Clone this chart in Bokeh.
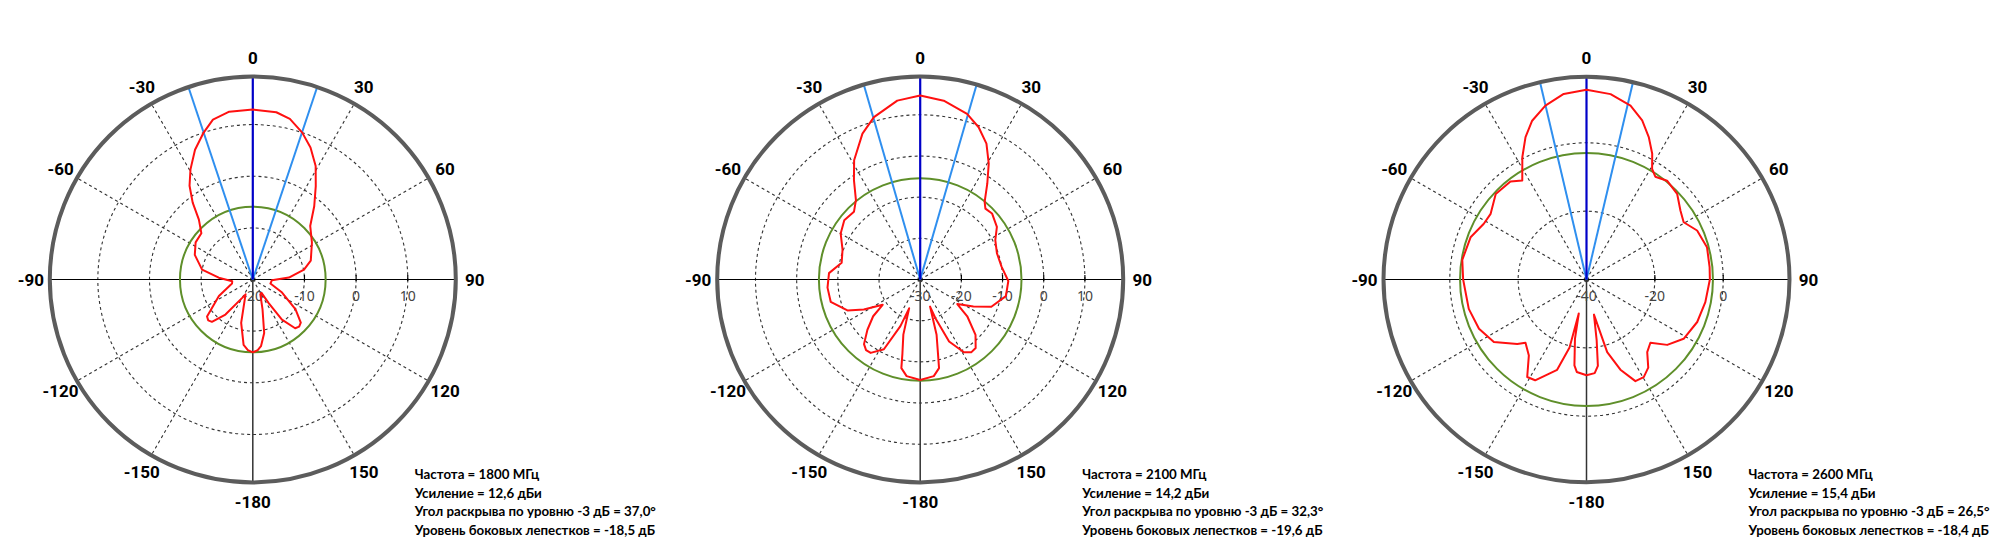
import numpy as np
from bokeh.plotting import figure
from bokeh.models import Range1d
from bokeh.core.properties import value
from bokeh.embed import file_html
from bokeh.resources import INLINE

# ---------------- data ----------------
freqs_mhz = [1800, 2100, 2600]
gain_dbi = [12.6, 14.2, 15.4]
beamwidth_deg = [37.0, 32.3, 26.5]
sidelobe_db = [-18.5, -19.6, -18.4]

r_min = [-20, -30, -40]
r_outer = [19.3, 19.3, 19.4]
radial_ticks = [[-20, -10, 0, 10], [-30, -20, -10, 0, 10], [-40, -20, 0]]
grid_circles = [[-10, 0, 10], [-20, -10, 0, 10], [-20, 0]]

angle_ticks = [0, 30, 60, 90, 120, 150, 180, -150, -120, -90, -60, -30]
angle_labels = ["0", "30", "60", "90", "120", "150", "-180", "-150", "-120", "-90", "-60", "-30"]
dashed_spokes = [30, 60, 120, 150, -30, -60, -120, -150]

angles_1800 = [-180, -176, -172, -165, -154, -150, -142, -136, -132.5, -129, -116, -101, -95, -87, -79, -67,
               -57, -48, -42, -38, -34, -29.5, -24, -18.5, -14, -8, 0, 8, 13, 18.6, 23.6, 29, 34, 40,
               47, 58, 72, 79, 87, 92, 103, 114, 125, 132, 135.5, 139, 144, 146, 147, 153, 162, 168, 173, 176, 180]
gain_1800 = [-5.9, -6.3, -7.2, -11.3, -16.8, -15.9, -11.4, -8.6, -8.3, -8.6, -12.7, -15.9, -16.0, -13.4, -10.0, -7.8,
             -6.8, -6.6, -4.4, -1.1, 1.9, 4.5, 7.5, 10.0, 11.9, 12.8, 12.9, 12.7, 11.9, 10.0, 7.9, 5.1, 1.8, -1.5,
             -4.8, -6.5, -8.2, -9.9, -13.0, -16.3, -16.5, -13.8, -9.9, -7.5, -7.2, -7.5, -10.4, -14.5, -16.9, -16.8,
             -13.9, -9.4, -7.0, -6.3, -5.9]

angles_2100 = [-180, -172, -168, -166.5, -163, -159, -157, -152.5, -146, -142.5, -139, -133.6, -128, -124, -118,
               -113, -104, -95, -86, -78, -69, -60, -52, -44.4, -39, -33.7, -29, -21.6, -15.9, -7.3, 0, 7.5,
               15.8, 21, 26, 30.6, 35, 39.7, 42.6, 47.4, 55.5, 62.3, 71, 81, 91, 101, 111, 117, 123.5, 128,
               135, 141, 145, 149, 155, 158.5, 160, 163.5, 166.5, 168, 172, 180]
gain_2100 = [-5.6, -6.3, -8.0, -11.5, -16.0, -22.5, -17.7, -10.9, -8.5, -8.4, -9.2, -12.3, -15.5, -19.0, -14.5,
             -10.8, -7.6, -7.4, -7.8, -10.5, -9.8, -7.7, -6.6, -7.0, -5.2, -1.0, 3.1, 8.1, 11.0, 13.8, 14.7, 13.8,
             11.8, 9.6, 6.7, 2.7, -1.6, -5.5, -6.6, -6.3, -7.4, -9.4, -10.3, -10.0, -8.6, -8.8, -11.5, -15.5,
             -19.2, -15.5, -11.0, -8.6, -8.4, -9.4, -13.4, -19.9, -23.0, -16.0, -11.5, -8.0, -6.3, -5.6]

angles_2600 = [-180, -174, -172, -169, -167.2, -166, -162, -153, -148.7, -142.8, -136, -133, -124, -114.6, -104,
               -90, -81, -70, -61.5, -55.6, -46.7, -37.8, -33, -27.7, -23.2, -18.9, -13.3, -7, 0, 7.4, 14.2,
               19.3, 23.7, 27.6, 30.7, 33.8, 39.2, 46.6, 53.7, 59.5, 66.1, 75, 84.3, 90, 100.8, 111, 121.4,
               129, 134.7, 140.1, 145, 149.6, 154.3, 159.4, 164.1, 168, 170.5, 172.5, 175, 180]
gain_2600 = [-12.0, -12.8, -14.6, -22.3, -29.8, -19.5, -12.2, -6.9, -6.6, -12.1, -14.3, -12.3, -7.3, -5.4, -4.5,
             -3.9, -3.2, -3.9, -5.8, -6.0, -3.5, -3.7, -5.5, 0.4, 5.3, 9.1, 12.3, 14.7, 15.5, 14.7, 12.5,
             9.3, 5.4, 1.5, -2.4, -3.8, -2.7, -3.5, -5.9, -7.0, -4.6, -3.5, -3.8, -3.9, -4.6, -5.3, -6.7,
             -9.6, -13.7, -12.3, -8.5, -6.9, -7.0, -11.8, -17.9, -29.5, -22.0, -14.5, -12.5, -12.0]

patterns = [(angles_1800, gain_1800), (angles_2100, gain_2100), (angles_2600, gain_2600)]

# ---------------- layout ----------------
W, H = 1992, 549
center_x_px = [252.3, 919.7, 1586.0]
center_y_px = 279.0
R_PX = 203.0
LABEL_R_PX = 222.0
INFO_DX_PX = 162.0
INFO_DY_PX = [194.3, 213.0, 231.8, 250.6]

ANG_FONT = value("Roboto")
TICK_FONT = value("Noto Sans")
INFO_FONT = value("Lato")


def fmt(v):
    return ("%.1f" % v).replace(".", ",")


def polar(r, deg):
    a = np.radians(np.asarray(deg, dtype=float))
    r = np.asarray(r, dtype=float)
    return r * np.sin(a), r * np.cos(a)


p = figure(width=W, height=H, output_backend="svg", toolbar_location=None,
           x_range=Range1d(0, 1), y_range=Range1d(0, 1),
           x_axis_type=None, y_axis_type=None, min_border=0)
p.outline_line_color = None
p.background_fill_color = "white"
p.border_fill_color = "white"

for i in range(3):
    rmin = r_min[i]
    Rdb = r_outer[i] - rmin
    s = R_PX / Rdb  # px per dB
    ox = center_x_px[i]
    oy = center_y_px
    nm = "panel%d" % i
    p.extra_x_ranges[nm] = Range1d(-ox / s, (W - ox) / s)
    p.extra_y_ranges[nm] = Range1d(-(H - oy) / s, oy / s)
    kw = dict(x_range_name=nm, y_range_name=nm)

    # dashed grid circles
    gr = [g - rmin for g in grid_circles[i]]
    p.circle(x=[0] * len(gr), y=[0] * len(gr), radius=gr, fill_color=None,
             line_color="#333333", line_width=1.1, line_dash="3 3", **kw)

    # dashed spokes
    ex, ey = polar([Rdb] * len(dashed_spokes), dashed_spokes)
    p.segment(x0=[0] * len(ex), y0=[0] * len(ex), x1=ex, y1=ey,
              line_color="#333333", line_width=1.1, line_dash="3 3", **kw)

    # solid axes
    p.segment(x0=[-Rdb], y0=[0], x1=[Rdb], y1=[0], line_color="black", line_width=1, **kw)
    p.segment(x0=[0], y0=[0], x1=[0], y1=[-Rdb], line_color="#333333", line_width=1.5, **kw)

    # radial ticks and labels
    tr = [t - rmin for t in radial_ticks[i]]
    p.segment(x0=tr[1:], y0=[-1.5 / s] * (len(tr) - 1), x1=tr[1:], y1=[4.5 / s] * (len(tr) - 1),
              line_color="black", line_width=1.2, **kw)
    p.text(x=tr, y=[-16 / s] * len(tr), text=[str(t) for t in radial_ticks[i]],
           text_font=TICK_FONT, text_font_size="14px", text_color="#444444",
           text_align="center", text_baseline="middle", **kw)

    # green side-lobe level circle
    p.circle(x=[0], y=[0], radius=[gain_dbi[i] + sidelobe_db[i] - rmin], fill_color=None,
             line_color="#5f8f2a", line_width=2, **kw)

    # beam lines
    half = beamwidth_deg[i] / 2.0
    bx, by = polar([Rdb, Rdb], [-half, half])
    p.segment(x0=[0, 0], y0=[0, 0], x1=bx, y1=by, line_color="#2f8fef", line_width=2, **kw)
    p.segment(x0=[0], y0=[0], x1=[0], y1=[Rdb], line_color="#0000c8", line_width=2.2, **kw)

    # radiation pattern
    ang, g = patterns[i]
    px, py = polar([v - rmin for v in g], ang)
    p.line(px, py, line_color="#ff1010", line_width=2, line_join="round", **kw)

    # outer ring
    p.circle(x=[0], y=[0], radius=[Rdb], fill_color=None, line_color="#5c5c5c", line_width=4, **kw)

    # angular labels
    lx, ly = polar([LABEL_R_PX / s] * len(angle_ticks), angle_ticks)
    p.text(x=lx, y=ly, text=angle_labels, text_font=ANG_FONT, text_font_style="bold",
           text_font_size="17px", text_color="black", text_align="center", text_baseline="middle", **kw)

    # info text
    lines = ["Частота = %d МГц" % freqs_mhz[i],
             "Усиление = %s дБи" % fmt(gain_dbi[i]),
             "Угол раскрыва по уровню -3 дБ = %s°" % fmt(beamwidth_deg[i]),
             "Уровень боковых лепестков = %s дБ" % fmt(sidelobe_db[i])]
    p.text(x=[INFO_DX_PX / s] * 4, y=[-d / s for d in INFO_DY_PX], text=lines,
           text_font=INFO_FONT, text_font_style="bold", text_font_size="13.3px",
           text_color="black", text_align="left", text_baseline="middle", **kw)

open("out.html", "w").write(file_html(p, INLINE))
